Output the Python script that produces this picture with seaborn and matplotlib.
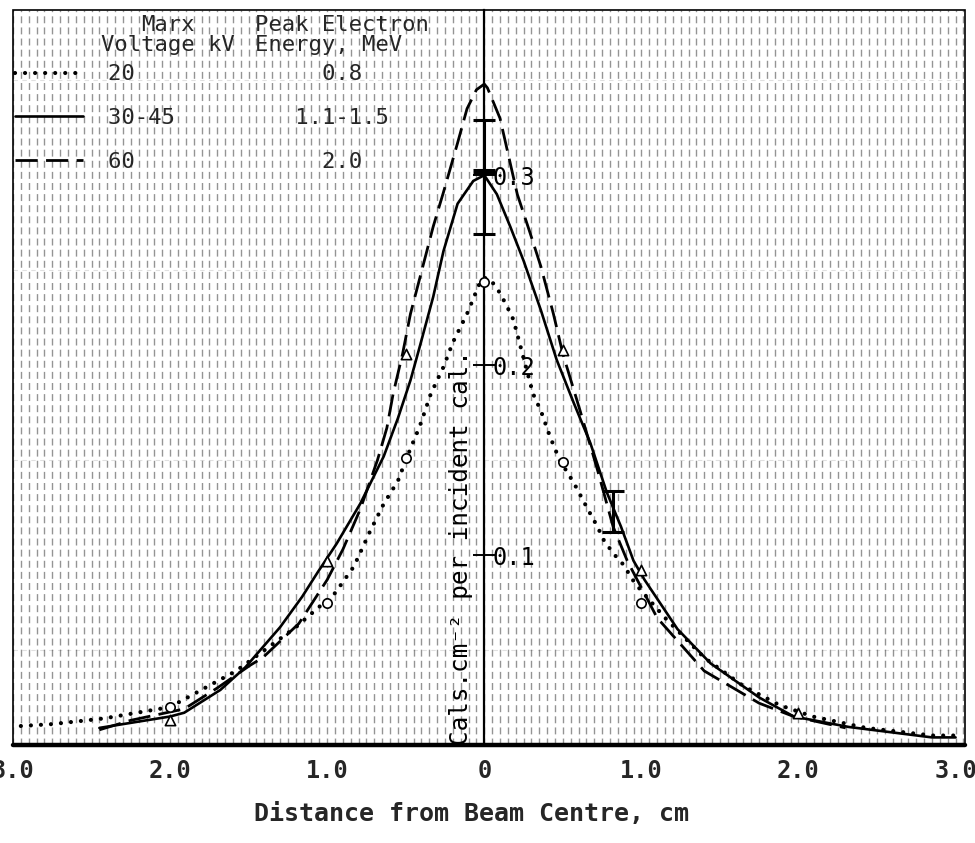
import matplotlib
matplotlib.use("Agg")
import matplotlib.pyplot as plt
from matplotlib.lines import Line2D
from matplotlib.patches import Rectangle
from matplotlib.ticker import MultipleLocator, FixedLocator, FixedFormatter
import pandas as pd
import seaborn as sns

# ---------------- data ----------------
marx_kv = ["20", "30-45", "60"]
peak_mev = ["0.8", "1.1-1.5", "2.0"]

x_20 = [-2.95, -2.75, -2.42, -2.0, -1.58, -1.2, -0.95, -0.83, -0.73, -0.64, -0.55, -0.49,
        -0.41, -0.34, -0.26, -0.2, -0.11, -0.03, 0.0, 0.04, 0.1, 0.15, 0.185, 0.23, 0.31,
        0.36, 0.42, 0.48, 0.57, 0.66, 0.72, 0.76, 0.82, 0.885, 0.96, 1.15, 1.4, 1.65,
        1.88, 2.09, 2.43, 2.85, 3.0]
y_20 = [0.010, 0.011, 0.014, 0.020, 0.039, 0.062, 0.080, 0.094, 0.112, 0.127, 0.139, 0.152,
        0.168, 0.185, 0.199, 0.212, 0.227, 0.243, 0.246, 0.245, 0.238, 0.230, 0.224, 0.210,
        0.185, 0.176, 0.162, 0.150, 0.138, 0.124, 0.115, 0.108, 0.101, 0.095, 0.085, 0.067,
        0.046, 0.031, 0.021, 0.015, 0.009, 0.005, 0.005]

x_30 = [-2.45, -2.0, -1.91, -1.68, -1.52, -1.3, -1.16, -1.06, -0.94, -0.79, -0.64, -0.55,
        -0.47, -0.41, -0.325, -0.26, -0.17, -0.07, 0.0, 0.08, 0.165, 0.25, 0.36, 0.46,
        0.57, 0.675, 0.78, 0.87, 0.95, 1.02, 1.23, 1.44, 1.75, 1.97, 2.32, 2.85, 3.0]
y_30 = [0.009, 0.015, 0.017, 0.029, 0.041, 0.062, 0.078, 0.091, 0.106, 0.127, 0.152, 0.172,
        0.192, 0.210, 0.236, 0.260, 0.285, 0.297, 0.300, 0.290, 0.273, 0.255, 0.229, 0.203,
        0.180, 0.159, 0.133, 0.115, 0.097, 0.087, 0.061, 0.043, 0.025, 0.015, 0.0095,
        0.004, 0.004]

x_60 = [-2.45, -2.25, -1.91, -1.7, -1.49, -1.41, -1.18, -1.0, -0.9, -0.79, -0.68, -0.62,
        -0.58, -0.52, -0.47, -0.41, -0.325, -0.26, -0.17, -0.11, -0.05, 0.0, 0.02, 0.1,
        0.21, 0.29, 0.36, 0.44, 0.5, 0.61, 0.72, 0.82, 0.91, 1.1, 1.4, 1.75, 1.97, 2.3]
y_60 = [0.008, 0.013, 0.019, 0.030, 0.042, 0.046, 0.064, 0.087, 0.103, 0.124, 0.150, 0.167,
        0.185, 0.206, 0.227, 0.246, 0.273, 0.291, 0.317, 0.335, 0.345, 0.348, 0.346, 0.330,
        0.290, 0.270, 0.252, 0.227, 0.206, 0.176, 0.145, 0.115, 0.097, 0.067, 0.039, 0.022,
        0.015, 0.009]

circ_x = [-2.0, -1.0, -0.5, 0.0, 0.5, 1.0]
circ_y = [0.020, 0.075, 0.151, 0.244, 0.149, 0.075]
tri_x = [-2.0, -1.0, -0.5, 0.5, 1.0, 2.0]
tri_y = [0.013, 0.097, 0.206, 0.208, 0.092, 0.017]
err_x = [0.0, 0.0, 0.82]
err_y = [0.316, 0.285, 0.123]
err_e = [0.013, 0.016, 0.011]

x_ticks = [-3, -2, -1, 0, 1, 2, 3]
x_tick_labels = ["3.0", "2.0", "1.0", "0", "1.0", "2.0", "3.0"]
y_ticks = [0.1, 0.2, 0.3]
y_tick_labels = ["0.1", "0.2", "0.3"]

# ---------------- style ----------------
sns.set_theme(style="white")
MONO = ["DejaVu Sans Mono", "Liberation Mono", "DejaVu Sans"]
plt.rcParams["font.family"] = MONO

dot_style = dict(color="black", linewidth=3.0, linestyle=(0, (0.01, 2.4)),
                 dash_capstyle="round")
solid_style = dict(color="black", linewidth=1.9, linestyle="-")
dash_style = dict(color="black", linewidth=2.0, linestyle=(0, (8, 3)))

fig = plt.figure(figsize=(9.75, 8.43), dpi=100)
ax = fig.add_axes([13 / 975, (843 - 745) / 843, (965 - 13) / 975, (745 - 10) / 843])
ax.set_facecolor("white")

# graph-paper texture
ax.xaxis.set_minor_locator(MultipleLocator(0.05))
ax.yaxis.set_minor_locator(MultipleLocator(0.05))
ax.grid(which="both", axis="x", color="black", alpha=0.42, linewidth=1.0,
        linestyle=(0, (5, 3)))
ax.grid(which="minor", axis="y", color="black", alpha=0.12, linewidth=0.8,
        linestyle=(0, (4, 4)))
ax.set_axisbelow(True)

# curves
df20 = pd.DataFrame({"x": x_20, "y": y_20})
df30 = pd.DataFrame({"x": x_30, "y": y_30})
df60 = pd.DataFrame({"x": x_60, "y": y_60})
sns.lineplot(data=df20, x="x", y="y", ax=ax, estimator=None, sort=True, **dot_style)
sns.lineplot(data=df30, x="x", y="y", ax=ax, estimator=None, sort=True, **solid_style)
sns.lineplot(data=df60, x="x", y="y", ax=ax, estimator=None, sort=True, **dash_style)

# measured points
sns.scatterplot(x=circ_x, y=circ_y, ax=ax, marker="o", s=45, facecolor="white",
                edgecolor="black", linewidth=1.2, zorder=4)
sns.scatterplot(x=tri_x, y=tri_y, ax=ax, marker="^", s=55, facecolor="white",
                edgecolor="black", linewidth=1.2, zorder=4)
ax.errorbar(err_x, err_y, yerr=err_e, fmt="none", ecolor="black", elinewidth=2.2,
            capsize=8, capthick=2.2, zorder=4)

# axes
ax.set_xlim(-3.0, 3.06)
ax.set_ylim(0, 0.387)
for s in ["top", "right", "bottom"]:
    ax.spines[s].set_visible(False)
ax.spines["left"].set_position(("data", 0))
ax.spines["left"].set_linewidth(1.6)
ax.spines["left"].set_color("black")
ax.add_patch(Rectangle((0, 0), 1, 1, transform=ax.transAxes, fill=False,
                       edgecolor="black", linewidth=1.2, zorder=5, clip_on=False))
ax.axhline(0, color="black", linewidth=3.2, zorder=5, clip_on=False)

ax.xaxis.set_major_locator(FixedLocator(x_ticks))
ax.xaxis.set_major_formatter(FixedFormatter(x_tick_labels))
ax.yaxis.set_major_locator(FixedLocator(y_ticks))
ax.yaxis.set_major_formatter(FixedFormatter(y_tick_labels))
ax.tick_params(axis="x", which="both", length=0, pad=10, labelsize=17)
for lab in ax.get_xticklabels():
    lab.set_fontweight("bold")
ax.tick_params(axis="y", which="major", direction="inout", length=16, width=1.4,
               left=True, labelsize=17, pad=-14, colors="black")
ax.tick_params(axis="y", which="minor", length=0)
for lab in ax.get_yticklabels():
    lab.set_horizontalalignment("left")

ax.set_ylabel("")
ax.set_xlabel("Distance from Beam Centre, cm", fontsize=18, fontweight="bold")
ax.xaxis.set_label_coords(0.482, -0.078)
ax.text(-0.07, 0.0, "Cals.cm\u207b\u00b2 per incident cal.", rotation=90,
        ha="right", va="bottom", fontsize=17.5, color="black", zorder=6)

# legend: column headings + line samples with typed table rows
ax.text(0.163, 0.966, "Marx\nVoltage kV", transform=ax.transAxes, ha="center",
        va="center", multialignment="center", fontsize=16, linespacing=1.05, zorder=6)
ax.text(0.254, 0.966, "Peak Electron\nEnergy, MeV", transform=ax.transAxes, ha="left",
        va="center", multialignment="left", fontsize=16, linespacing=1.05, zorder=6)

handles = [Line2D([], [], **dot_style), Line2D([], [], **solid_style),
           Line2D([], [], **dash_style)]
labels = [f"{kv:<14}{mev:^7}" for kv, mev in zip(marx_kv, peak_mev)]
fp = {"family": MONO, "size": 16}
leg = ax.legend(handles, labels, loc="upper left", bbox_to_anchor=(-0.003, 0.932),
                frameon=False, prop=fp, handlelength=3.1, handletextpad=1.1,
                labelspacing=1.07, borderaxespad=0.0, borderpad=0.2)
leg.set_zorder(6)

fig.savefig("out.png", dpi=100, facecolor="white")
